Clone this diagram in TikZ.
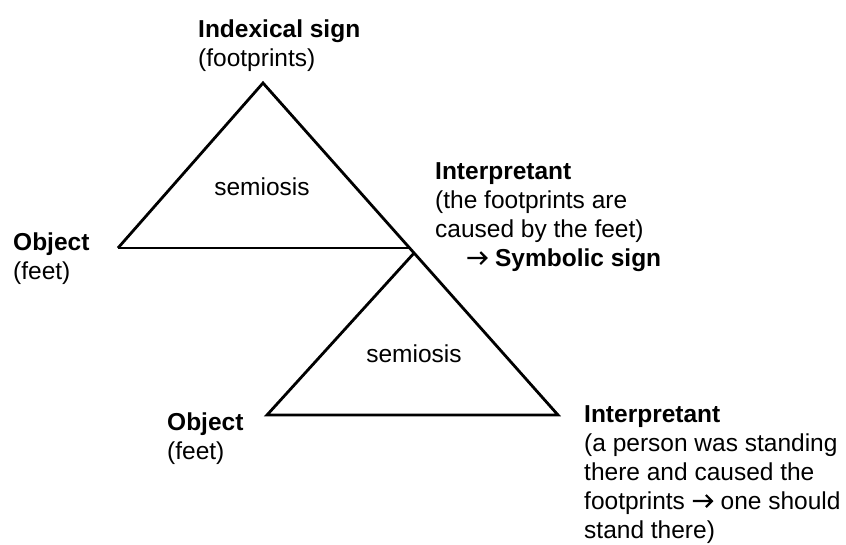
\documentclass[tikz,border=0pt]{standalone}
\usepackage{fontspec}
\setmainfont{Liberation Sans}
\newcommand{\myarrow}{\tikz[x=1pt,y=1pt,baseline=0pt]{\path (0,0) (22,0);\draw[line width=2.2pt,line cap=butt,line join=miter] (1,8)--(20,8) (14,14)--(20,8)--(14,2);}}
\begin{document}
\begin{tikzpicture}[x=1pt,y=-1pt,
  edge/.style={line width=2.8pt,line join=miter,line cap=butt},
  lbl/.style={anchor=north west,inner sep=0pt,align=left,
    font=\fontsize{24.5}{29}\selectfont},
  mid/.style={anchor=base,inner sep=0pt,font=\fontsize{24.5}{29}\selectfont}]
\useasboundingbox (0,0) rectangle (846,544);
% triangle corners
\coordinate (A1) at (263,83);
\coordinate (L1) at (118,248);
\coordinate (J) at (409.6,248);
\coordinate (B2) at (414.1,253);
\coordinate (L2) at (267,415);
\coordinate (R2) at (558,415);
\draw[edge] (L1) -- (A1) -- (R2) -- (L2) -- (B2);
\draw[edge] (L1) -- (J);
% labels
\node[lbl] (sign) at (198,20) {\textbf{Indexical sign}\\(footprints)};
\node[mid] (sem1) at (262,195) {semiosis};
\node[lbl] (int1) at (435,162) {\textbf{Interpretant}\\(the footprints are\\caused by the feet)\\\hspace*{31pt}\myarrow{} \textbf{Symbolic sign}};
\node[lbl] (obj1) at (13,233) {\textbf{Object}\\(feet)};
\node[mid] (sem2) at (414,362) {semiosis};
\node[lbl] (obj2) at (167,413) {\textbf{Object}\\(feet)};
\node[lbl] (int2) at (584,405) {\textbf{Interpretant}\\(a person was standing\\there and caused the\\footprints \myarrow{} one should\\stand there)};
\end{tikzpicture}
\end{document}
